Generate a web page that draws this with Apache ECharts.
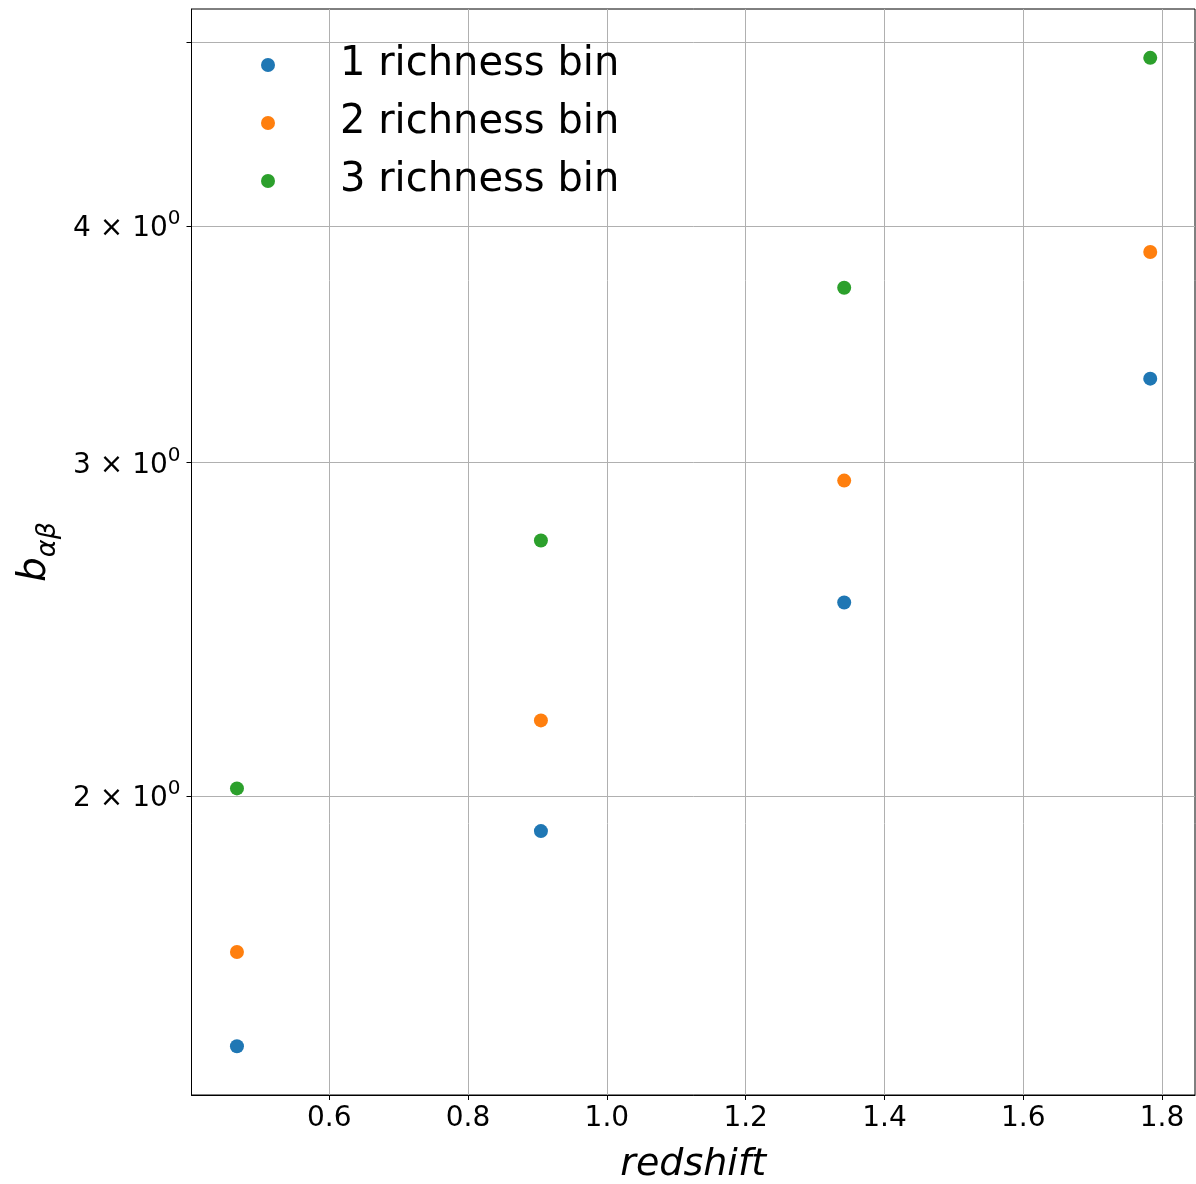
<!DOCTYPE html>
<html><head><meta charset="utf-8">
<script src="https://cdn.jsdelivr.net/npm/echarts@6/dist/echarts.min.js"></script>
<style>html,body{margin:0;padding:0;background:#fff}#c{width:1196px;height:1184px}</style>
</head><body><div id="c"></div>
<script>
// ---- data ----
const redshift = [0.467, 0.905, 1.342, 1.783];
const bin1 = [1.476, 1.917, 2.531, 3.322];
const bin2 = [1.655, 2.193, 2.935, 3.875];
const bin3 = [2.019, 2.729, 3.710, 4.906];
const seriesNames = ['1 richness bin', '2 richness bin', '3 richness bin'];
const xTicks = [0.6, 0.8, 1.0, 1.2, 1.4, 1.6, 1.8];
const yTicks = [2, 3, 4, 5];
const yLabeled = [2, 3, 4];
// ---- style ----
const colors = ['#1f77b4', '#ff7f0e', '#2ca02c'];
const FONT = 'DejaVu Sans';
const allBins = [bin1, bin2, bin3];

const chart = echarts.init(document.getElementById('c'), null, {renderer: 'canvas'});
const option = {
  animation: false,
  backgroundColor: '#fff',
  textStyle: {fontFamily: FONT, color: '#000'},
  grid: {left: 191.5, right: 1, top: 9, bottom: 89, containLabel: false, outerBoundsMode: 'none',
         show: true, borderColor: '#000', borderWidth: 1, backgroundColor: 'transparent'},
  legend: {
    orient: 'vertical', left: 256, top: 40, itemWidth: 14, itemHeight: 14, itemGap: 18,
    icon: 'circle',
    formatter: n => '{t|' + n + '}',
    textStyle: {fontFamily: FONT, fontSize: 40, color: '#000', lineHeight: 40,
      rich: {t: {fontFamily: FONT, fontSize: 40, color: '#000', lineHeight: 40, padding: [0, 0, 0, 60]}}},
    data: seriesNames
  },
  xAxis: {
    type: 'value', min: 0.4015, max: 1.8475,
    name: 'redshift', nameLocation: 'middle', nameGap: 51,
    nameTextStyle: {fontFamily: FONT, fontSize: 38, fontStyle: 'italic', color: '#000'},
    axisLine: {show: true, lineStyle: {color: '#000', width: 1}},
    axisTick: {show: true, length: 5, lineStyle: {color: '#000', width: 1}, customValues: xTicks},
    axisLabel: {fontFamily: FONT, fontSize: 28, color: '#000', margin: 10, customValues: xTicks,
                formatter: v => Number(v).toFixed(1)},
    splitLine: {show: true, lineStyle: {color: '#b0b0b0', width: 1}}
  },
  yAxis: {
    type: 'log', logBase: 10, min: 1.391, max: 5.206,
    name: '{b|b}{sub|αβ}', nameLocation: 'middle', nameGap: 130, nameRotate: 90,
    nameTextStyle: {
      rich: {
        b: {fontFamily: FONT, fontSize: 39, fontStyle: 'italic', color: '#000', lineHeight: 38, verticalAlign: 'top'},
        sub: {fontFamily: FONT, fontSize: 27, fontStyle: 'italic', color: '#000', lineHeight: 46, verticalAlign: 'bottom'}
      }
    },
    axisLine: {show: true, lineStyle: {color: '#000', width: 1}},
    axisTick: {show: true, length: 5, lineStyle: {color: '#000', width: 1}, customValues: yTicks},
    axisLabel: {
      margin: 11, customValues: yTicks,
      formatter: function (v) {
        let val = Number(v);
        if (val < 1) val = Math.pow(10, val);
        const r = Math.round(val);
        if (Math.abs(val - r) > 1e-6 || yLabeled.indexOf(r) < 0) return '';
        return '{m|' + r + ' × 10}{s|0}';
      },
      rich: {
        m: {fontFamily: FONT, fontSize: 28, color: '#000', lineHeight: 34, verticalAlign: 'bottom'},
        s: {fontFamily: FONT, fontSize: 20, color: '#000', lineHeight: 20, verticalAlign: 'top'}
      }
    },
    splitLine: {show: true, lineStyle: {color: '#b0b0b0', width: 1}}
  },
  series: allBins.map((b, i) => ({
    name: seriesNames[i], type: 'scatter', symbol: 'circle', symbolSize: 14,
    itemStyle: {color: colors[i], opacity: 1},
    data: redshift.map((z, j) => [z, b[j]])
  }))
};
chart.setOption(option);
</script></body></html>
